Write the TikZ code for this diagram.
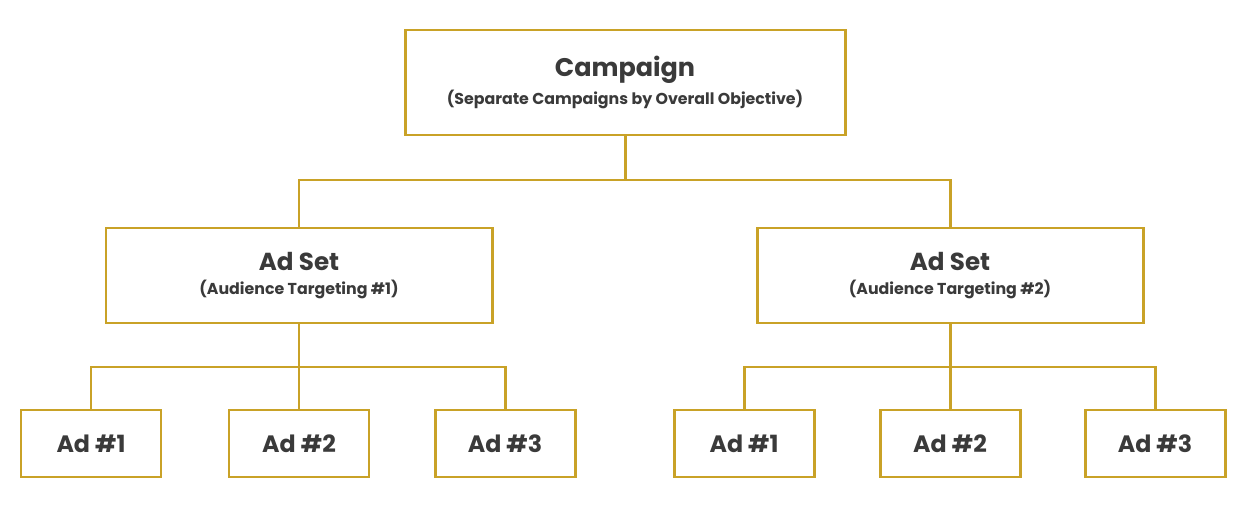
\documentclass[tikz,border=0pt]{standalone}
\usepackage{fontspec}
\setmainfont{Poppins}
\definecolor{gold}{HTML}{C9A227}
\definecolor{txt}{HTML}{3A3A3A}
\begin{document}
\begin{tikzpicture}[x=0.02cm,y=-0.02cm,
  bx/.style={draw=gold,line width=1.7pt,fill=white,text=txt,font=\bfseries,align=center,inner sep=0pt},
  ln/.style={draw=gold,line width=1.7pt}]
\useasboundingbox (0,0) rectangle (1260,509);
\node[bx,minimum width=440*0.02cm,minimum height=105*0.02cm] (camp) at (625,82.5) {{\fontsize{14.5}{18}\selectfont Campaign}\\[3pt]{\fontsize{9}{10}\selectfont (Separate Campaigns by Overall Objective)}};
\node[bx,minimum width=386*0.02cm,minimum height=95*0.02cm] (s1) at (299,275.5) {{\fontsize{14}{17}\selectfont Ad Set}\\[2pt]{\fontsize{9}{10}\selectfont (Audience Targeting \#1)}};
\node[bx,minimum width=386*0.02cm,minimum height=95*0.02cm] (s2) at (950,275.5) {{\fontsize{14}{17}\selectfont Ad Set}\\[2pt]{\fontsize{9}{10}\selectfont (Audience Targeting \#2)}};
\foreach \n/\x/\t in {a1/91/Ad \#1,a2/299/Ad \#2,a3/505/Ad \#3,b1/744/Ad \#1,b2/950/Ad \#2,b3/1155/Ad \#3}{
  \node[bx,minimum width=140*0.02cm,minimum height=67*0.02cm,font=\bfseries\fontsize{13.5}{15}\selectfont] (\n) at (\x,443.5) {\t};
}
\coordinate (cj) at (625,180);
\draw[ln] (camp.south) -- (cj);
\draw[ln] (s1.north) |- (s2.north |- cj) -- (s2.north);
\coordinate (j1) at (299,367);
\coordinate (j2) at (950,367);
\draw[ln] (s1.south) -- (a2.north);
\draw[ln] (a1.north) |- (j1) -| (a3.north);
\draw[ln] (s2.south) -- (b2.north);
\draw[ln] (b1.north) |- (j2) -| (b3.north);
\end{tikzpicture}
\end{document}
